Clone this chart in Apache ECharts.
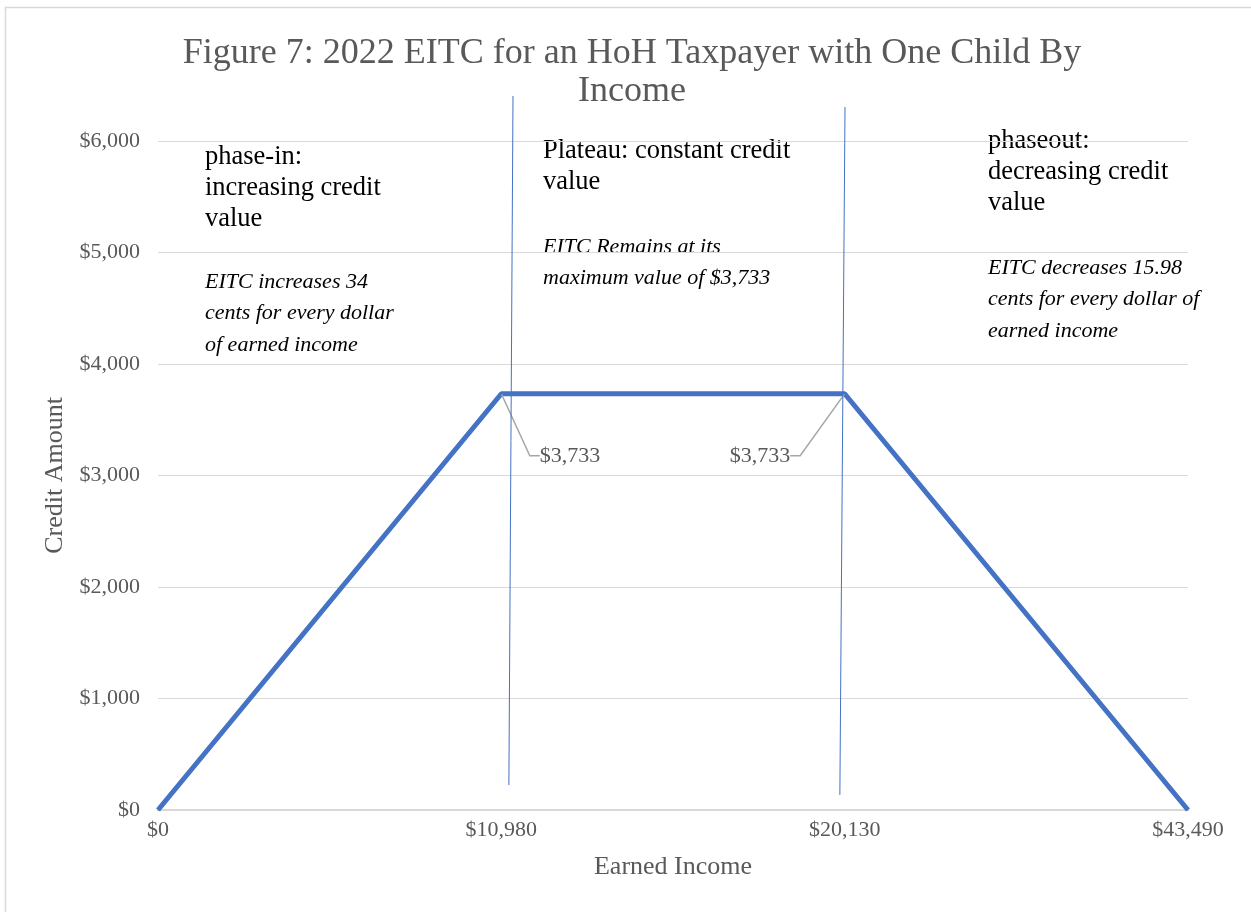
<!DOCTYPE html>
<html>
<head>
<meta charset="utf-8">
<script src="https://cdn.jsdelivr.net/npm/echarts@6/dist/echarts.min.js"></script>
<style>
html,body{margin:0;padding:0;background:#fff;}
#chart{width:1251px;height:912px;}
</style>
</head>
<body>
<div id="chart"></div>
<script>
// ---- data ----
const incomeLabels = ['$0', '$10,980', '$20,130', '$43,490'];
const creditValues = [0, 3733, 3733, 0];
const yTicks = [0, 1000, 2000, 3000, 4000, 5000, 6000];
// hand-drawn divider lines (category position, credit value) at start/end of the plateau
const dividerStart = [[1.034, 6404], [1.022, 224]];
const dividerEnd = [[2.001, 6305], [1.986, 135]];

const titleText = 'Figure 7: 2022 EITC for an HoH Taxpayer with One Child By\nIncome';
const xName = 'Earned Income';
const yName = 'Credit Amount';
const notes = [
  {head: 'phase-in:\nincreasing credit\nvalue', body: 'EITC increases 34\ncents for every dollar\nof earned income'},
  {head: 'Plateau: constant credit\nvalue', body: 'EITC Remains at its\nmaximum value of $3,733'},
  {head: 'phaseout:\ndecreasing credit\nvalue', body: 'EITC decreases 15.98\ncents for every dollar of\nearned income'}
];

const FONT = '"Liberation Serif", "DejaVu Serif", serif';
const GRAY = '#595959';
const BLUE = '#4472C4';

const chart = echarts.init(document.getElementById('chart'));

const lineData = creditValues.map((v, i) => {
  const item = {value: [i, v]};
  if (i === 1) {
    item.label = {show: true, position: 'right', padding: [0, 0, 0, 8]};
  } else if (i === 2) {
    item.label = {show: true, position: 'left', padding: [0, 8, 0, 0]};
  }
  return item;
});

function noteText(n, left, top1, top2) {
  return [
    {type: 'text', left: left, top: top1, style: {text: n.head, font: '26.5px ' + FONT, fill: '#000', lineHeight: 31}},
    {type: 'text', left: left, top: top2, style: {text: n.body, font: 'italic 22px ' + FONT, fill: '#000', lineHeight: 31.5}}
  ];
}

chart.setOption({
  backgroundColor: '#fff',
  animation: false,
  title: {
    text: titleText,
    left: 627, top: 30, textAlign: 'center',
    textStyle: {fontFamily: FONT, fontSize: 36, fontWeight: 'normal', color: GRAY, lineHeight: 38}
  },
  grid: {left: 158, right: 63, top: 141, bottom: 102},
  xAxis: {
    type: 'value', min: 0, max: 3, interval: 1,
    name: xName, nameLocation: 'middle', nameGap: 44,
    nameTextStyle: {fontFamily: FONT, fontSize: 26, color: GRAY},
    axisLine: {show: true, lineStyle: {color: '#d9d9d9', width: 2}},
    axisTick: {show: false},
    splitLine: {show: false},
    axisLabel: {
      fontFamily: FONT, fontSize: 22, color: GRAY, margin: 9,
      formatter: v => incomeLabels[Math.round(v)] || ''
    }
  },
  yAxis: {
    type: 'value', min: yTicks[0], max: yTicks[yTicks.length - 1], interval: 1000,
    name: yName, nameLocation: 'middle', nameGap: 90,
    nameTextStyle: {fontFamily: FONT, fontSize: 26, color: GRAY},
    axisLine: {show: false},
    axisTick: {show: false},
    splitLine: {lineStyle: {color: '#d9d9d9', width: 1}},
    axisLabel: {
      fontFamily: FONT, fontSize: 22, color: GRAY, margin: 18,
      formatter: v => '$' + v.toLocaleString('en-US')
    }
  },
  series: [
    {
      type: 'line', data: lineData, symbol: 'circle', symbolSize: 1, showSymbol: true,
      itemStyle: {color: BLUE},
      lineStyle: {color: BLUE, width: 5},
      label: {show: false, fontFamily: FONT, fontSize: 22, color: GRAY, formatter: p => '$' + p.value[1].toLocaleString('en-US')},
      labelLine: {show: true, length2: 10, lineStyle: {color: '#a6a6a6', width: 1.5}},
      labelLayout: p => p.dataIndex === 1 ? {dx: 25, dy: 62} : {dx: -41, dy: 62},
      z: 3
    },
    {
      type: 'line', data: dividerStart, symbol: 'none', clip: false,
      lineStyle: {color: BLUE, width: 1}, z: 4, silent: true
    },
    {
      type: 'line', data: dividerEnd, symbol: 'none', clip: false,
      lineStyle: {color: BLUE, width: 1}, z: 4, silent: true
    }
  ],
  graphic: [
    {type: 'rect', left: 3, top: 5, shape: {width: 1400, height: 1000}, style: {fill: 'none', stroke: '#d9d9d9', lineWidth: 1.5}, z: -10, silent: true}
  ].concat(noteText(notes[0], 205, 142, 266))
   .concat(noteText(notes[1], 543, 136, 231))
   .concat(noteText(notes[2], 988, 126, 252))
});
</script>
</body>
</html>
